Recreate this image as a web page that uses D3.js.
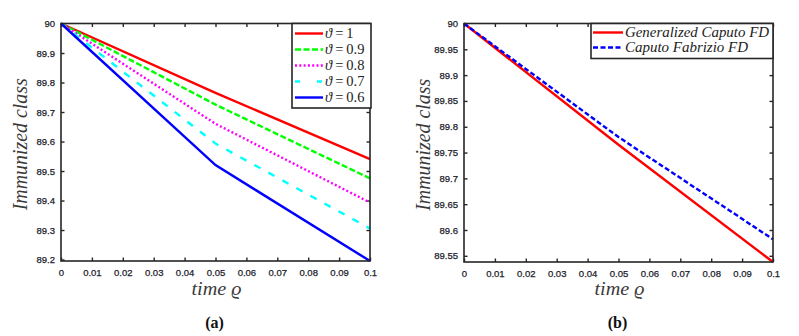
<!DOCTYPE html>
<html>
<head>
<meta charset="utf-8">
<script src="https://cdn.jsdelivr.net/npm/d3@7"></script>
<style>
  body { margin: 0; background: #fff; }
  svg { display: block; }
  .tick text { font-family: "Liberation Sans", Arial, sans-serif; font-size: 9.5px; fill: #1c1c2c; stroke: #1c1c2c; stroke-width: 0.25px; }
</style>
</head>
<body>
<script>
// data
const timeA = [0, 0.05, 0.1];
const thetaValues = ["1", "0.9", "0.8", "0.7", "0.6"];
const theta1 = [90, 89.765, 89.54];
const theta09 = [90, 89.725, 89.475];
const theta08 = [90, 89.66, 89.393];
const theta07 = [90, 89.593, 89.305];
const theta06 = [90, 89.52, 89.195];

const timeB = [0, 0.05, 0.1];
const fdLabels = ["Generalized Caputo FD", "Caputo Fabrizio FD"];
const generalizedCaputo = [90, 89.765, 89.538];
const caputoFabrizio = [90, 89.78, 89.582];

const xTicks = [0, 0.01, 0.02, 0.03, 0.04, 0.05, 0.06, 0.07, 0.08, 0.09, 0.1];
const yTicksA = [89.2, 89.3, 89.4, 89.5, 89.6, 89.7, 89.8, 89.9, 90];
const yTicksB = [89.55, 89.6, 89.65, 89.7, 89.75, 89.8, 89.85, 89.9, 89.95, 90];

const width = 799, height = 336;
const serif = "'Liberation Serif', 'DejaVu Serif', serif";
const svg = d3.select("body").append("svg")
  .attr("width", width)
  .attr("height", height);

function drawPanel(cfg) {
  const g = svg.append("g");
  const x = d3.scaleLinear().domain([0, 0.1]).range([cfg.left, cfg.right]);
  const y = d3.scaleLinear().domain(cfg.yDomain).range([cfg.bottom, cfg.top]);
  const fmt = d => d3.format("")(+d.toFixed(2));

  // axes with inward ticks, box on
  const axisCol = "#262626";
  g.append("g")
    .attr("transform", `translate(0,${cfg.bottom})`)
    .call(d3.axisBottom(x).tickValues(xTicks).tickSizeInner(-3.5).tickSizeOuter(0)
      .tickPadding(8).tickFormat(fmt));
  g.append("g")
    .attr("transform", `translate(${cfg.left},0)`)
    .call(d3.axisLeft(y).tickValues(cfg.yTicks).tickSizeInner(-3.5).tickSizeOuter(0)
      .tickPadding(6).tickFormat(fmt));
  g.append("g")
    .attr("transform", `translate(0,${cfg.top})`)
    .call(d3.axisTop(x).tickValues(xTicks).tickSizeInner(-3.5).tickSizeOuter(0).tickFormat(""));
  g.append("g")
    .attr("transform", `translate(${cfg.right},0)`)
    .call(d3.axisRight(y).tickValues(cfg.yTicks).tickSizeInner(-3.5).tickSizeOuter(0).tickFormat(""));
  g.selectAll(".domain").remove();
  g.selectAll(".tick line").attr("stroke", axisCol).attr("stroke-width", 1.4);

  const line = d3.line().x(d => x(d[0])).y(d => y(d[1]));
  cfg.series.forEach(s => {
    g.append("path")
      .datum(cfg.time.map((t, i) => [t, s.values[i]]))
      .attr("d", line)
      .attr("fill", "none")
      .attr("stroke", s.color)
      .attr("stroke-width", 2.4)
      .attr("stroke-dasharray", s.dash);
  });

  // box
  g.append("rect")
    .attr("x", cfg.left).attr("y", cfg.top)
    .attr("width", cfg.right - cfg.left).attr("height", cfg.bottom - cfg.top)
    .attr("fill", "none").attr("stroke", axisCol).attr("stroke-width", 1.6);

  // legend
  const lg = cfg.legend;
  g.append("rect")
    .attr("x", lg.x).attr("y", lg.y).attr("width", lg.w).attr("height", lg.h)
    .attr("fill", "#fff").attr("stroke", axisCol).attr("stroke-width", 1.6);
  cfg.series.forEach((s, i) => {
    const ry = lg.y + lg.first + i * lg.step;
    g.append("line")
      .attr("x1", lg.x + lg.lx1).attr("x2", lg.x + lg.lx2)
      .attr("y1", ry).attr("y2", ry)
      .attr("stroke", s.color).attr("stroke-width", 2.4)
      .attr("stroke-dasharray", s.legendDash || s.dash);
    const t = g.append("text")
      .attr("x", lg.x + lg.tx).attr("y", ry + 4.5)
      .attr("font-family", serif)
      .attr("font-size", lg.fontSize)
      .attr("fill", "#222");
    cfg.legendText(t, i);
  });

  // axis titles
  g.append("text")
    .attr("transform", `translate(${cfg.left - 34},${(cfg.top + cfg.bottom) / 2 + 2}) rotate(-90)`)
    .attr("text-anchor", "middle")
    .attr("font-family", serif)
    .attr("font-style", "italic").attr("font-size", 20).attr("fill", "#3a3a3a")
    .attr("textLength", 132).attr("lengthAdjust", "spacingAndGlyphs")
    .text("Immunized class");
  g.append("text")
    .attr("x", (cfg.left + cfg.right) / 2 + 1).attr("y", 295)
    .attr("text-anchor", "middle")
    .attr("font-family", serif)
    .attr("font-style", "italic").attr("font-size", 19).attr("fill", "#3a3a3a")
    .attr("textLength", 50).attr("lengthAdjust", "spacingAndGlyphs")
    .text("time \u03F1");
  g.append("text")
    .attr("x", (cfg.left + cfg.right) / 2 - 1).attr("y", 328)
    .attr("text-anchor", "middle")
    .attr("font-family", "'Liberation Serif', 'Times New Roman', serif")
    .attr("font-weight", "bold").attr("font-size", 16).attr("fill", "#111")
    .text(cfg.caption);
}

drawPanel({
  left: 61, right: 370, top: 23.5, bottom: 261,
  yDomain: [89.195, 90], yTicks: yTicksA, time: timeA, caption: "(a)",
  legendText: (t, i) => {
    t.append("tspan").attr("font-style", "italic").text("\u03D1");
    t.append("tspan").attr("dx", 3).text("=");
    t.append("tspan").attr("dx", 3).text(thetaValues[i]);
  },
  series: [
    { values: theta1, color: "#ff0000", dash: null },
    { values: theta09, color: "#00ff00", dash: "6,2.5" },
    { values: theta08, color: "#ff00ff", dash: "2,2.3" },
    { values: theta07, color: "#00ffff", dash: "7,9", legendDash: "5,17" },
    { values: theta06, color: "#0000ff", dash: null }
  ],
  legend: { x: 292, y: 23.5, w: 79, h: 84.5, first: 10, step: 16, lx1: 3, lx2: 31, tx: 33, fontSize: 14.5 }
});

drawPanel({
  left: 464, right: 773, top: 23.5, bottom: 262,
  yDomain: [89.538, 90], yTicks: yTicksB, time: timeB, caption: "(b)",
  legendText: (t, i) => {
    t.attr("font-style", "italic")
      .attr("textLength", fdLabels[i] === "Generalized Caputo FD" ? 144 : 123)
      .attr("lengthAdjust", "spacingAndGlyphs")
      .text(fdLabels[i]);
  },
  series: [
    { values: generalizedCaputo, color: "#ff0000", dash: null },
    { values: caputoFabrizio, color: "#0000ff", dash: "5,2.5" }
  ],
  legend: { x: 591, y: 23.5, w: 182, h: 35, first: 9, step: 15, lx1: 2, lx2: 32, tx: 34, fontSize: 14 }
});
</script>
</body>
</html>
